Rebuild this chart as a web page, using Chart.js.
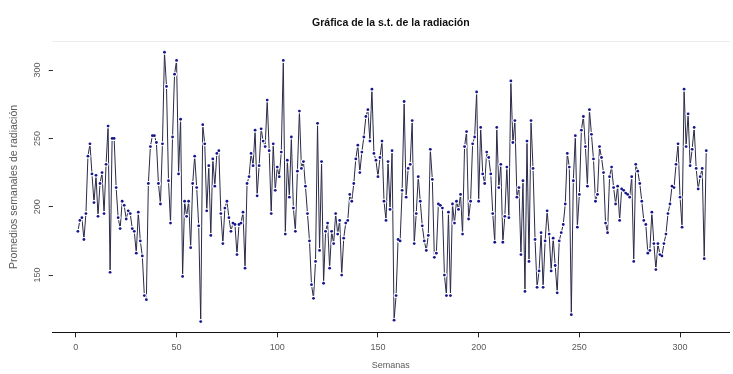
<!DOCTYPE html>
<html lang="es">
<head>
<meta charset="utf-8">
<title>Gráfica de la s.t. de la radiación</title>
<script src="https://cdn.jsdelivr.net/npm/chart.js@4/dist/chart.umd.min.js"></script>
<style>
  html, body { margin: 0; padding: 0; background: #ffffff; }
  #grafica { display: block; }
</style>
</head>
<body>
<canvas id="grafica" width="733" height="374"></canvas>
<script>
// Promedios semanales de radiación, por tramos de semanas
const tramo1 = [182, 190, 192, 176, 195, 237, 246, 224, 203, 223, 193, 217, 225, 195, 231, 259, 152, 250, 250, 214,
                192, 184, 204, 201, 191, 197, 195, 184, 182, 166, 196, 175, 164, 135, 132, 217, 244, 252, 252, 247,
                217, 202, 246, 313, 288, 219, 188, 251, 297, 307];
const tramo2 = [224, 264, 149, 204, 193, 204, 170, 217, 237, 214, 186, 116, 260, 246, 197, 230, 179, 235, 215, 239,
                241, 195, 173, 199, 204, 192, 182, 188, 187, 165, 187, 188, 196, 155, 217, 222, 239, 230, 256, 208,
                230, 257, 248, 244, 278, 241, 195, 246];
const tramo3 = [212, 229, 222, 240, 307, 180, 234, 207, 251, 199, 182, 226, 270, 228, 233, 215, 195, 175, 143, 133,
                160, 261, 168, 233, 144, 182, 188, 155, 182, 173, 195, 180, 190, 150, 177, 188, 190, 209, 204, 217,
                235, 245, 225, 240, 251, 266, 271, 248, 286, 239, 234];
const tramo4 = [222, 236, 248, 204, 190, 233, 198, 241, 117, 135, 176, 175, 212, 277, 207, 228, 231, 263, 173, 195,
                222, 204, 186, 175, 168, 179, 242, 220, 163, 166, 202, 201, 199, 150, 135, 196, 135, 202, 188, 204,
                198, 209, 180, 244, 255, 191, 204, 246];
const tramo5 = [251, 284, 204, 258, 224, 217, 240, 236, 224, 195, 174, 258, 214, 231, 174, 193, 229, 192, 292, 247,
                263, 207, 214, 165, 219, 138, 248, 160, 263, 228, 176, 141, 153, 181, 141, 175, 197, 180, 153, 177,
                157, 137, 175, 181, 187, 202, 239, 229, 121, 219];
const tramo6 = [252, 185, 209, 256, 266, 244, 215, 271, 253, 235, 204, 209, 244, 236, 225, 188, 181, 222, 229, 214,
                202, 215, 190, 213, 212, 210, 209, 207, 222, 160, 231, 226, 217, 204, 190, 187, 166, 168, 196, 173,
                154, 173, 165, 164, 173, 180, 195, 202, 215, 214, 231, 246, 207, 185, 286, 244, 268, 230, 242, 258,
                228, 213, 222, 228, 162, 241];

// Marcas de los ejes
const ticksSemanas = [0, 50, 100, 150, 200, 250, 300];
const ticksRadiacion = [150, 200, 250, 300];

const titulo = 'Gráfica de la s.t. de la radiación';
const tituloX = 'Semanas';
const tituloY = 'Promedios semanales de radiación';

const radiacion = [].concat(tramo1, tramo2, tramo3, tramo4, tramo5, tramo6);
const puntos = radiacion.map((v, i) => ({ x: i + 1, y: v }));

// Rango del eje Y con un 4 % de margen a cada lado
const minY = Math.min(...radiacion);
const maxY = Math.max(...radiacion);
const margenY = 0.04 * (maxY - minY);

const fuente = 'Liberation Sans, Arial, sans-serif';
const grisTexto = '#5a5a5a';

// Etiquetas del eje Y giradas en vertical
const etiquetasY = {
  id: 'etiquetasY',
  afterDraw(chart) {
    const y = chart.scales.y;
    const ctx = chart.ctx;
    ctx.save();
    ctx.font = '9px ' + fuente;
    ctx.fillStyle = grisTexto;
    ctx.textAlign = 'center';
    ctx.textBaseline = 'middle';
    ticksRadiacion.forEach(v => {
      ctx.save();
      ctx.translate(38, y.getPixelForValue(v));
      ctx.rotate(-Math.PI / 2);
      ctx.fillText(String(v), 0, 0);
      ctx.restore();
    });
    ctx.restore();
  }
};

// Línea con huecos alrededor de cada punto (estilo "ambos": puntos y líneas)
const huecoPuntos = {
  id: 'huecoPuntos',
  afterDatasetDraw(chart, args) {
    if (args.index !== 1) return;
    const ctx = chart.ctx;
    const area = chart.chartArea;
    ctx.save();
    ctx.beginPath();
    ctx.rect(area.left, area.top, area.right - area.left, area.bottom - area.top);
    ctx.clip();
    ctx.globalCompositeOperation = 'destination-out';
    ctx.fillStyle = '#000';
    args.meta.data.forEach(p => {
      ctx.beginPath();
      ctx.arc(p.x, p.y, 2.5, 0, Math.PI * 2);
      ctx.fill();
    });
    ctx.restore();
  }
};

const limitesX = { min: -11.5, max: 324.3 };

new Chart(document.getElementById('grafica'), {
  type: 'line',
  data: {
    datasets: [{
      // puntos
      data: puntos,
      showLine: false,
      pointRadius: 1.4,
      pointBackgroundColor: '#16168c',
      pointBorderWidth: 0,
      order: 1
    }, {
      // línea
      data: puntos,
      borderColor: '#2a2a48',
      borderWidth: 1,
      pointRadius: 0,
      tension: 0,
      order: 2
    }]
  },
  options: {
    responsive: false,
    animation: false,
    devicePixelRatio: 1,
    layout: { padding: 0 },
    plugins: {
      legend: { display: false },
      title: { display: false },
      tooltip: { enabled: false }
    },
    scales: {
      x: {
        type: 'linear',
        position: 'bottom',
        min: limitesX.min,
        max: limitesX.max,
        afterBuildTicks: s => { s.ticks = ticksSemanas.map(v => ({ value: v })); },
        afterFit: s => { s.height = 41.7; },
        grid: { drawOnChartArea: false, drawTicks: true, tickLength: 5, color: '#222222', lineWidth: 1 },
        border: { display: true, color: '#111111', width: 1 },
        ticks: { font: { family: fuente, size: 9 }, color: grisTexto, padding: 5, maxRotation: 0, autoSkip: false },
        title: { display: true, text: tituloX, font: { family: fuente, size: 9 }, color: grisTexto, padding: { top: 0, bottom: 3 } }
      },
      xTop: {
        type: 'linear',
        position: 'top',
        min: limitesX.min,
        max: limitesX.max,
        afterFit: s => { s.height = 41.5; },
        grid: { display: false, drawTicks: false },
        border: { display: true, color: '#ececec', width: 1 },
        ticks: { display: false },
        title: { display: true, text: titulo, font: { family: fuente, size: 10.5, weight: 'bold' }, color: '#111111', padding: { top: 16.7, bottom: 0 } }
      },
      y: {
        type: 'linear',
        min: minY - margenY,
        max: maxY + margenY,
        afterBuildTicks: s => { s.ticks = ticksRadiacion.map(v => ({ value: v })); },
        afterFit: s => { s.width = 52.7; },
        grid: { drawOnChartArea: false, drawTicks: true, tickLength: 4, color: '#333333', lineWidth: 1 },
        border: { display: false },
        ticks: { display: false },
        title: { display: true, text: tituloY, font: { family: fuente, size: 10.5 }, color: grisTexto, padding: { top: 7.7, bottom: 0 } }
      }
    }
  },
  plugins: [etiquetasY, huecoPuntos]
});
</script>
</body>
</html>
